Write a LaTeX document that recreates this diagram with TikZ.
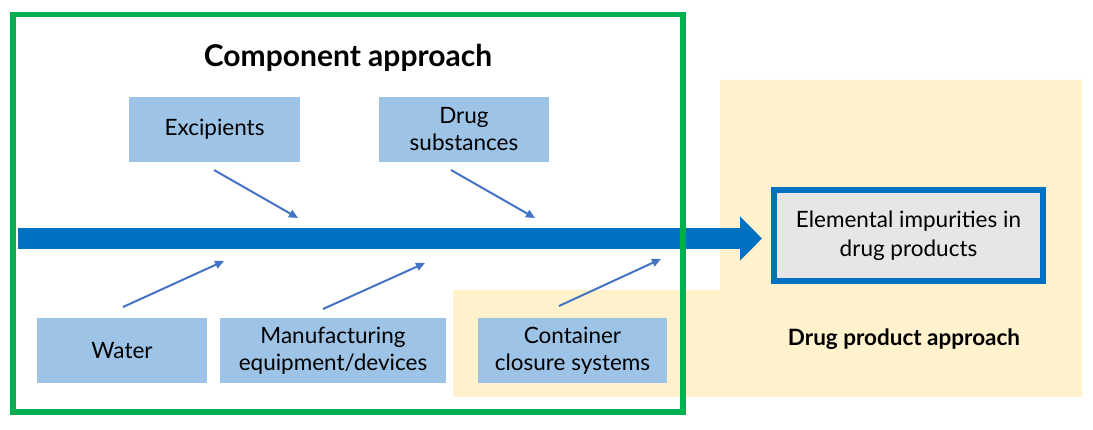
\documentclass[tikz,border=0pt]{standalone}
\usepackage{fontspec}
\setmainfont{Lato}
\usetikzlibrary{arrows.meta}
\definecolor{cgreen}{HTML}{00B050}
\definecolor{cyellow}{HTML}{FFF2CC}
\definecolor{cbox}{HTML}{9DC3E6}
\definecolor{cmain}{HTML}{0070C0}
\definecolor{carrow}{HTML}{4472C4}
\definecolor{cgray}{HTML}{E7E6E6}
\tikzset{
  src/.style={fill=cbox, draw=none, align=center, font=\fontsize{22.5}{27}\selectfont, minimum height=65pt, inner sep=1pt},
  feed/.style={carrow, line width=2pt, -{Triangle[length=9pt,width=8pt]}},
}
\begin{document}
\begin{tikzpicture}[x=1pt,y=-1pt]
\useasboundingbox (0,0) rectangle (1093,430);
% drug product approach region
\fill[cyellow] (453,290) -- (720,290) -- (720,80) -- (1082,80) -- (1082,397) -- (453,397) -- cycle;
\node[font=\bfseries\fontsize{22.5}{27}\selectfont] (dpa) at (904,339) {Drug product approach};
% result
\node[draw=cmain, line width=6pt, fill=cgray, minimum width=269pt, minimum height=91pt, inner sep=1pt, align=center, font=\fontsize{22.5}{29}\selectfont] (res) at (908.5,235.5) {Elemental impurities in\\drug products};
% main arrow
\coordinate (start) at (18,238.5);
\draw[cmain, line width=21pt, -{Triangle[length=22pt,width=43pt]}, shorten >=9pt] (start) -- (start -| res.west);
% component approach frame
\draw[cgreen, line width=5.5pt] (13,14.5) rectangle (683,412);
\node[font=\bfseries\fontsize{30}{34}\selectfont] (title) at (348,58) {Component approach};
% sources
\node[src, minimum width=171pt] (exc) at (214.5,129.5) {Excipients};
\node[src, minimum width=170pt] (drug) at (464,129.5) {Drug\\substances};
\node[src, minimum width=170pt] (water) at (122,350.5) {Water};
\node[src, minimum width=226pt] (manu) at (333,350.5) {Manufacturing\\equipment/devices};
\node[src, minimum width=189pt] (cont) at (572.5,350.5) {Container\\closure systems};
% feed arrows
\coordinate (e1) at (214,170); \coordinate (e2) at (298,218);
\coordinate (d1) at (451,170); \coordinate (d2) at (535,218);
\coordinate (w1) at (123,307); \coordinate (w2) at (224,261);
\coordinate (m1) at (323,309); \coordinate (m2) at (425,263);
\coordinate (c1) at (559,306); \coordinate (c2) at (661,259);
\draw[feed] (e1) -- (e2);
\draw[feed] (d1) -- (d2);
\draw[feed] (w1) -- (w2);
\draw[feed] (m1) -- (m2);
\draw[feed] (c1) -- (c2);
\end{tikzpicture}
\end{document}
